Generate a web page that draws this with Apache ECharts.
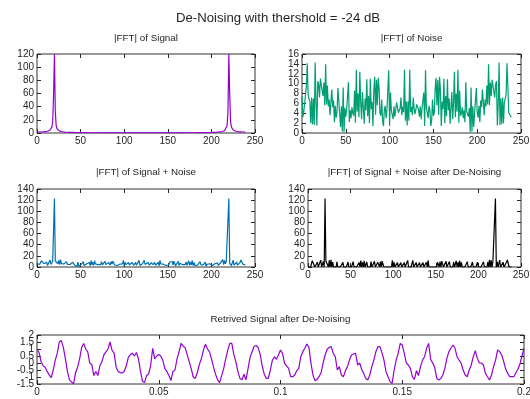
<!DOCTYPE html>
<html>
<head>
<meta charset="utf-8">
<title>De-Noising with thershold = -24 dB</title>
<script src="https://cdn.jsdelivr.net/npm/echarts@6/dist/echarts.min.js"></script>
<style>
    html, body {margin: 0; padding: 0; background: #fff;}
    #chart {width: 530px; height: 399px;}
</style>
</head>
<body>
<div id="chart"></div>
<script>
// |FFT| of the clean signal (bins 0..239)
const fftSignal = [
    1.5, 1.5, 1.5, 1.5, 1.6, 1.6, 1.7, 1.8, 1.9, 2.0,
    2.2, 2.4, 2.7, 3.1, 3.7, 4.6, 6.1, 9.0, 17, 58,
    120, 32, 11, 6.4, 4.5, 3.5, 2.9, 2.5, 2.2, 1.9,
    1.7, 1.6, 1.4, 1.3, 1.2, 1.1, 1.0, 1.0, 0.9, 0.9,
    0.8, 0.8, 0.8, 0.7, 0.7, 0.7, 0.6, 0.6, 0.6, 0.6,
    0.6, 0.5, 0.5, 0.5, 0.5, 0.5, 0.5, 0.5, 0.4, 0.4,
    0.4, 0.4, 0.4, 0.4, 0.4, 0.4, 0.4, 0.4, 0.4, 0.4,
    0.4, 0.3, 0.3, 0.3, 0.3, 0.3, 0.3, 0.3, 0.3, 0.3,
    0.3, 0.3, 0.3, 0.3, 0.3, 0.3, 0.3, 0.3, 0.3, 0.3,
    0.3, 0.3, 0.3, 0.3, 0.3, 0.3, 0.3, 0.3, 0.3, 0.3,
    0.3, 0.3, 0.3, 0.3, 0.3, 0.3, 0.3, 0.3, 0.3, 0.3,
    0.3, 0.3, 0.3, 0.3, 0.3, 0.3, 0.3, 0.3, 0.3, 0.3,
    0.3,
    0.3, 0.3, 0.3, 0.3, 0.3, 0.3, 0.3, 0.3, 0.3, 0.3,
    0.3, 0.3, 0.3, 0.3, 0.3, 0.3, 0.3, 0.3, 0.3, 0.3,
    0.3, 0.3, 0.3, 0.3, 0.3, 0.3, 0.3, 0.3, 0.3, 0.3,
    0.3, 0.3, 0.3, 0.3, 0.3, 0.3, 0.3, 0.3, 0.3, 0.3,
    0.3, 0.3, 0.3, 0.3, 0.3, 0.3, 0.3, 0.3, 0.3, 0.4,
    0.4, 0.4, 0.4, 0.4, 0.4, 0.4, 0.4, 0.4, 0.4, 0.4,
    0.4, 0.4, 0.5, 0.5, 0.5, 0.5, 0.5, 0.5, 0.5, 0.6,
    0.6, 0.6, 0.6, 0.6, 0.7, 0.7, 0.7, 0.8, 0.8, 0.8,
    0.9, 0.9, 1.0, 1.0, 1.1, 1.2, 1.3, 1.4, 1.6, 1.7,
    1.9, 2.2, 2.5, 2.9, 3.5, 4.5, 6.4, 11, 32, 120,
    58, 17, 9.0, 6.1, 4.6, 3.7, 3.1, 2.7, 2.4, 2.2,
    2.0, 1.9, 1.8, 1.7, 1.6, 1.6, 1.5, 1.5, 1.5
];

// |FFT| of the noise
const fftNoise = [
    7.4, 3.2, 4.2, 3.9, 4.1, 9.5, 14.1, 7.8, 6.9, 6.3,
    2.0, 7.2, 1.8, 7.0, 1.6, 14.3, 6.0, 1.5, 10.5, 9.8,
    7.2, 11.0, 10.6, 10.8, 7.5, 10.2, 5.6, 13.9, 5.8, 9.6,
    5.4, 6.8, 3.6, 6.3, 8.8, 5.2, 6.6, 2.2, 5.5, 3.1,
    4.2, 9.1, 6.5, 4.0, 1.2, 5.4, 0.3, 9.2, 0.2, 5.1,
    3.3, 4.8, 4.4, 10.3, 2.2, 4.6, 3.0, 5.2, 4.0, 3.5,
    8.6, 2.1, 12.8, 4.3, 8.0, 3.2, 12.4, 6.2, 2.8, 8.3,
    5.0, 1.9, 7.0, 4.6, 10.9, 3.4, 7.5, 2.0, 11.0, 4.8,
    6.3, 1.4, 8.8, 11.4, 3.7, 10.8, 5.6, 11.2, 9.0, 4.0,
    3.5, 6.8, 2.5, 1.4, 4.7, 5.5, 3.0, 4.8, 5.2, 12.7,
    1.4, 8.2, 4.6, 5.0, 2.8, 5.4, 3.3, 4.7, 6.2, 5.8,
    4.1, 3.8, 5.0, 7.2, 3.6, 5.3, 4.2, 12.8, 2.5, 6.4,
    1.5,
    6.4, 2.5, 12.8, 4.2, 5.3, 3.6, 7.2, 5.0, 3.8, 4.1,
    5.8, 6.2, 4.7, 3.3, 5.4, 2.8, 5.0, 4.6, 8.2, 1.4,
    12.7, 5.2, 4.8, 3.0, 5.5, 4.7, 1.4, 2.5, 6.8, 3.5,
    4.0, 9.0, 11.2, 5.6, 10.8, 3.7, 11.4, 8.8, 1.4, 6.3,
    4.8, 11.0, 2.0, 7.5, 3.4, 10.9, 4.6, 7.0, 1.9, 5.0,
    8.3, 2.8, 6.2, 12.4, 3.2, 8.0, 4.3, 12.8, 2.1, 8.6,
    3.5, 4.0, 5.2, 3.0, 4.6, 2.2, 10.3, 4.4, 4.8, 3.3,
    5.1, 0.2, 9.2, 0.3, 5.4, 1.2, 4.0, 6.5, 9.1, 4.2,
    3.1, 5.5, 2.2, 6.6, 5.2, 8.8, 6.3, 3.6, 6.8, 5.4,
    9.6, 5.8, 13.9, 5.6, 10.2, 7.5, 10.8, 10.6, 11.0, 7.2,
    9.8, 10.5, 1.5, 6.0, 14.3, 1.6, 7.0, 1.8, 7.2, 2.0,
    6.3, 6.9, 7.8, 14.1, 9.5, 4.1, 3.9, 4.2, 3.2
];

// |FFT| of signal + noise
const fftNoisy = [
    6.8, 3.5, 4.0, 4.6, 5.2, 11.2, 12.8, 8.4, 6.0, 5.1,
    3.2, 8.6, 2.9, 6.1, 3.3, 12.4, 4.8, 2.7, 9.9, 6.5,
    123, 10.8, 12.6, 9.4, 5.8, 11.9, 4.4, 13.1, 6.2, 8.7,
    4.0, 5.6, 2.8, 7.4, 9.3, 4.5, 5.9, 1.8, 4.6, 2.7,
    3.9, 8.4, 5.8, 3.6, 1.5, 4.9, 1.1, 8.9, 1.0, 4.4,
    3.0, 5.2, 3.8, 9.6, 2.6, 4.1, 3.4, 5.8, 3.5, 3.0,
    8.2, 2.4, 11.7, 4.0, 8.4, 2.9, 11.2, 5.5, 3.2, 8.9,
    4.4, 2.2, 6.5, 4.1, 9.8, 3.7, 6.9, 2.4, 10.2, 4.3,
    5.7, 1.8, 8.3, 10.6, 3.4, 9.9, 5.1, 10.4, 8.6, 3.6,
    3.9, 6.2, 2.8, 1.7, 4.3, 5.0, 3.4, 4.4, 5.6, 11.8,
    1.9, 8.5, 4.2, 4.6, 3.1, 8.1, 3.7, 4.3, 6.0, 8.0,
    4.5, 3.5, 4.7, 8.2, 3.2, 5.1, 4.6, 11.9, 2.8, 6.0,
    1.9,
    6.0, 2.8, 11.9, 4.6, 5.1, 3.2, 8.2, 4.7, 3.5, 4.5,
    8.0, 6.0, 4.3, 3.7, 8.1, 3.1, 4.6, 4.2, 8.5, 1.9,
    11.8, 5.6, 4.4, 3.4, 5.0, 4.3, 1.7, 2.8, 6.2, 3.9,
    3.6, 8.6, 10.4, 5.1, 9.9, 3.4, 10.6, 8.3, 1.8, 5.7,
    4.3, 10.2, 2.4, 6.9, 3.7, 9.8, 4.1, 6.5, 2.2, 4.4,
    8.9, 3.2, 5.5, 11.2, 2.9, 8.4, 4.0, 11.7, 2.4, 8.2,
    3.0, 3.5, 5.8, 3.4, 4.1, 2.6, 9.6, 3.8, 5.2, 3.0,
    4.4, 1.0, 8.9, 1.1, 4.9, 1.5, 3.6, 5.8, 8.4, 3.9,
    2.7, 4.6, 1.8, 5.9, 4.5, 9.3, 7.4, 2.8, 5.6, 4.0,
    8.7, 6.2, 13.1, 4.4, 11.9, 5.8, 9.4, 12.6, 10.8, 123,
    6.5, 9.9, 2.7, 4.8, 12.4, 3.3, 6.1, 2.9, 8.6, 3.2,
    5.1, 6.0, 8.4, 12.8, 11.2, 5.2, 4.6, 4.0, 3.5
];

// |FFT| of signal + noise after thresholding
const fftDenoised = [
    0, 0, 0, 0, 0, 11.2, 12.8, 8.4, 0, 0,
    0, 8.6, 0, 0, 0, 12.4, 0, 0, 9.9, 0,
    123, 10.8, 12.6, 9.4, 0, 11.9, 0, 13.1, 0, 8.7,
    0, 0, 0, 0, 9.3, 0, 0, 0, 0, 0,
    0, 8.4, 0, 0, 0, 0, 0, 8.9, 0, 0,
    0, 0, 0, 9.6, 0, 0, 0, 0, 0, 0,
    8.2, 0, 11.7, 0, 8.4, 0, 11.2, 0, 0, 8.9,
    0, 0, 0, 0, 9.8, 0, 0, 0, 10.2, 0,
    0, 0, 8.3, 10.6, 0, 9.9, 0, 10.4, 8.6, 0,
    0, 0, 0, 0, 0, 0, 0, 0, 0, 11.8,
    0, 8.5, 0, 0, 0, 8.1, 0, 0, 0, 8.0,
    0, 0, 0, 8.2, 0, 0, 0, 11.9, 0, 0,
    0,
    0, 0, 11.9, 0, 0, 0, 8.2, 0, 0, 0,
    8.0, 0, 0, 0, 8.1, 0, 0, 0, 8.5, 0,
    11.8, 0, 0, 0, 0, 0, 0, 0, 0, 0,
    0, 8.6, 10.4, 0, 9.9, 0, 10.6, 8.3, 0, 0,
    0, 10.2, 0, 0, 0, 9.8, 0, 0, 0, 0,
    8.9, 0, 0, 11.2, 0, 8.4, 0, 11.7, 0, 8.2,
    0, 0, 0, 0, 0, 0, 9.6, 0, 0, 0,
    0, 0, 8.9, 0, 0, 0, 0, 0, 8.4, 0,
    0, 0, 0, 0, 0, 9.3, 0, 0, 0, 0,
    8.7, 0, 13.1, 0, 11.9, 0, 9.4, 12.6, 10.8, 123,
    0, 9.9, 0, 0, 12.4, 0, 0, 0, 8.6, 0,
    0, 0, 8.4, 12.8, 11.2, 0, 0, 0, 0
];

// retrieved time signal, sampled at 1200 Hz
const sampleRate = 1200;
const retrieved = [
    1.0, 0.75, 0.1, -0.2, -0.3, -0.6, -0.85, -1.05, -0.5, 0.2, 0.7, 1.5,
    1.6, 1.1, 0.3, -0.6, -1.2, -1.35, -1.5, -0.7, -0.3, 0.3, 1.1, 1.4,
    1.0, 0.8, 0.0, -0.1, -0.9, -0.6, -0.9, -0.2, 0.1, 0.6, 0.8, 1.0,
    1.5, 0.9, 0.7, -0.3, -0.6, -0.7, -0.7, -0.6, -0.2, 0.4, 0.6, 0.7,
    0.5, 0.75, 0.3, -0.6, -1.3, -1.4, -0.9, -0.8, -0.2, 1.05, 0.3, 0.5,
    0.6, 0.5, 0.2, -0.4, -0.6, -0.9, -1.25, -0.6, -0.5, 0.3, 0.8, 1.4,
    1.2, 1.1, 0.6, 0.1, -0.4, -1.0, -1.1, -0.7, -0.1, 0.3, 0.9, 1.35,
    1.0, 0.8, 0.3, -0.3, -0.8, -1.2, -1.4, -0.9, -0.4, 0.3, 0.9, 1.4,
    1.4, 0.6, 0.1, -0.6, -1.1, -1.2, -0.8, -1.2, -0.4, 0.4, 0.8, 1.2,
    1.25, 1.1, 0.6, -0.2, -0.8, -1.1, -1.1, -0.5, 0.2, 0.45, 0.26, 0.57,
    0.93, 0.69, -0.02, -0.2, -0.38, -0.98, -0.98, -0.86, -0.55, -0.38, 0.45, 0.81,
    1.05, 1.36, 1.12, 0, -0.86, -1.26, -1.17, -0.98, -0.7, 0, 0.57, 0.98,
    1.12, 1.17, 0.69, 0.45, -0.5, -0.26, -0.86, -0.98, -0.55, -0.26, 0.21, 0.57,
    0.64, 0.69, -0.14, 0, -0.45, -0.74, -1.1, -1.21, -0.86, -0.26, 0.21, 0.81,
    1.17, 1.17, 0.74, 0.21, -0.62, -0.98, -1.33, -1.45, -0.5, 0.21, 0.69, 1.4,
    1.29, 0.69, 0, -0.14, -0.38, -0.98, -1.17, -0.55, -0.9, -0.26, 0.21, 0.45,
    1.05, 1.4, 0.26, 0, -0.31, -1.1, -1.21, -1.1, -0.86, -0.38, 0.33, 0.81,
    1.05, 1.29, 1.05, 0.45, 0.21, 0, -0.5, -0.86, -0.98, -0.5, -0.14, 0.45,
    0.88, 0.33, 0, 0, -0.14, -0.74, -0.98, -1.21, -0.86, -0.26, 0.21, 0.93,
    0.81, 0.57, 0.1, -0.45, -0.74, -0.98, -0.98, -0.98, -0.7, -0.45, -0.07, 0.5,
    1.05
];

// tick labels of the bottom panel's y axis (they overlap in the original too)
const retrievedYTicks = [-1.5, -1, -0.5, 0, 0.5, 1, 1.5, 2];

const panelTitles = [
    "|FFT| of Signal",
    "|FFT| of Noise",
    "|FFT| of Signal + Noise",
    "|FFT| of Signal + Noise after De-Noising",
    "Retrived Signal after De-Noising"
];

const FONT = "Liberation Sans";
const INK = "#262626";

const grids = [
    {left: 37, top: 54, width: 218, height: 79},
    {left: 302, top: 54, width: 219, height: 79},
    {left: 37, top: 189, width: 218, height: 78},
    {left: 308, top: 189, width: 213, height: 78},
    {left: 37, top: 335, width: 487, height: 49}
];

// x range / y range per panel: [min, max, step]
const ranges = [
    {x: [0, 250, 50], y: [0, 120, 20]},
    {x: [0, 250, 50], y: [0, 16, 2]},
    {x: [0, 250, 50], y: [0, 140, 20]},
    {x: [0, 250, 50], y: [0, 140, 20]},
    {x: [0, 0.2, 0.05], y: [-1.5, 2, 0.5]}
];

// gnuplot style: ticks point into the box, mirrored on all four sides
function makeTick() {
    return {show: true, inside: false, length: -4, lineStyle: {color: INK, width: 1}};
}
function makeLabel() {
    return {show: true, color: INK, fontFamily: FONT, fontSize: 10, margin: 3,
        hideOverlap: false, showMinLabel: true, showMaxLabel: true};
}

const xAxes = [];
const yAxes = [];
ranges.forEach((r, gi) => {
    const common = {type: "value", gridIndex: gi, splitLine: {show: false}, axisLine: {show: false, onZero: false}};
    xAxes.push({...common, position: "bottom", min: r.x[0], max: r.x[1], interval: r.x[2],
        axisTick: makeTick(), axisLabel: makeLabel()});
    xAxes.push({...common, position: "top", min: r.x[0], max: r.x[1], interval: r.x[2],
        axisTick: makeTick(), axisLabel: {show: false}});
    const leftLabel = makeLabel();
    if (gi === 4) {
        // every other label here; the rest go on a twin axis so none get dropped
        leftLabel.customValues = retrievedYTicks.filter((v, i) => i % 2 === 0);
    }
    yAxes.push({...common, position: "left", min: r.y[0], max: r.y[1], interval: r.y[2],
        axisTick: makeTick(), axisLabel: leftLabel});
    yAxes.push({...common, position: "right", min: r.y[0], max: r.y[1], interval: r.y[2],
        axisTick: makeTick(), axisLabel: {show: false}});
});
yAxes.push({
    type: "value", gridIndex: 4, position: "left", min: -1.5, max: 2, interval: 0.5,
    splitLine: {show: false}, axisLine: {show: false, onZero: false}, axisTick: {show: false},
    axisLabel: {...makeLabel(), customValues: retrievedYTicks.filter((v, i) => i % 2 === 1)}
});

const seriesSpecs = [
    {values: fftSignal, color: "#9400d3"},
    {values: fftNoise, color: "#009e73"},
    {values: fftNoisy, color: "#0072b2"},
    {values: fftDenoised, color: "#000000"},
    {values: retrieved, color: "#9400d3", time: true}
];

const series = seriesSpecs.map((s, gi) => ({
    type: "line",
    xAxisIndex: gi * 2,
    yAxisIndex: gi * 2,
    showSymbol: false,
    symbol: "none",
    clip: true,
    lineStyle: {color: s.color, width: 1.2},
    data: s.values.map((v, i) => [s.time ? i / sampleRate : i, v])
}));

const titleTops = [33, 33, 167, 167, 314];
const titles = [{
    text: "De-Noising with thershold = -24 dB",
    left: 278, top: 12, textAlign: "center", padding: 0,
    textStyle: {fontFamily: FONT, fontSize: 13.2, fontWeight: "normal", color: INK}
}];
panelTitles.forEach((t, gi) => {
    const g = grids[gi];
    titles.push({
        text: t, left: g.left + g.width / 2, top: titleTops[gi], textAlign: "center", padding: 0,
        textStyle: {fontFamily: FONT, fontSize: 9.8, fontWeight: "normal", color: INK}
    });
});

const chart = echarts.init(document.getElementById("chart"), null, {renderer: "canvas"});
chart.setOption({
    animation: false,
    backgroundColor: "#ffffff",
    textStyle: {fontFamily: FONT},
    title: titles,
    grid: grids.map(g => ({...g, show: true, borderColor: "#333", borderWidth: 1,
        backgroundColor: "transparent", containLabel: false, outerBoundsMode: "none"})),
    xAxis: xAxes,
    yAxis: yAxes,
    series: series
});
</script>
</body>
</html>
